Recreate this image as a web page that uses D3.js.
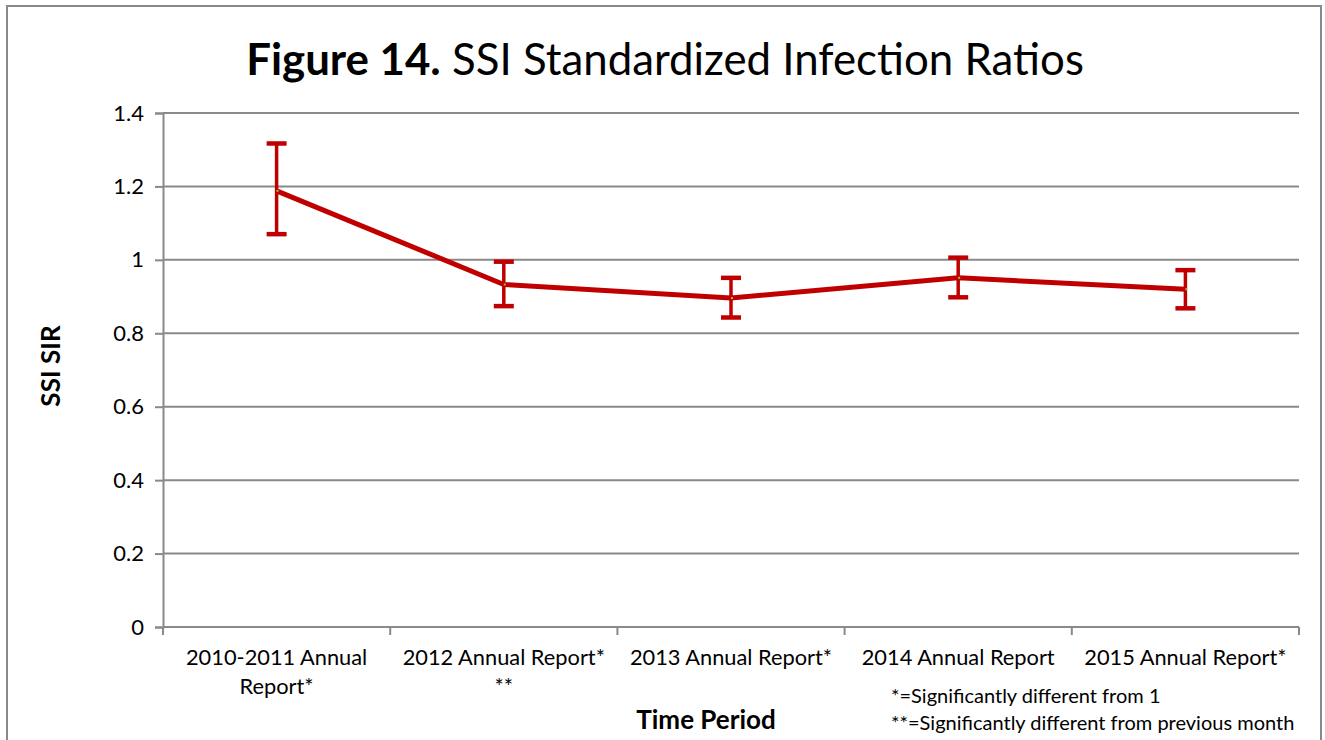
<!DOCTYPE html>
<html><head><meta charset="utf-8">
<script src="https://cdn.jsdelivr.net/npm/d3@7"></script>
<style>body{margin:0;background:#fff}svg{display:block}text{font-family:Lato,"Open Sans",sans-serif;fill:#000}</style>
</head><body>
<svg id="c" width="1325" height="740"></svg>
<script>
const categories = [["2010-2011 Annual","Report*"],["2012 Annual Report*","**"],["2013 Annual Report*"],["2014 Annual Report"],["2015 Annual Report*"]];
const sir = [1.188, 0.933, 0.896, 0.951, 0.920];
const upper = [1.317, 0.995, 0.951, 1.006, 0.972];
const lower = [1.070, 0.874, 0.843, 0.898, 0.868];
const yTicks = [0, 0.2, 0.4, 0.6, 0.8, 1, 1.2, 1.4];
const footnotes = ["*=Significantly different from 1", "**=Significantly different from previous month"];

const svg = d3.select("#c");
const L = 163, R = 1299, T = 113, B = 627;
const grey = "#898989", red = "#c00000";

svg.append("rect").attr("x",7).attr("y",6).attr("width",1314).attr("height",760)
  .attr("fill","none").attr("stroke",grey).attr("stroke-width",2);

const x = d3.scaleBand().domain(d3.range(categories.length)).range([L,R]);
const y = d3.scaleLinear().domain([0,1.4]).range([B,T]);

// gridlines
svg.append("g").selectAll("line").data(yTicks.filter(d=>d>0)).join("line")
  .attr("x1",L).attr("x2",R).attr("y1",d=>y(d)).attr("y2",d=>y(d))
  .attr("stroke",grey).attr("stroke-width",2);

// y axis
const ya = svg.append("g").attr("transform",`translate(${L},0)`)
  .call(d3.axisLeft(y).tickValues(yTicks).tickSize(8).tickPadding(11).tickFormat(d=>String(d)));
ya.select(".domain").attr("stroke",grey).attr("stroke-width",2);
ya.selectAll(".tick line").attr("stroke",grey).attr("stroke-width",2);
ya.selectAll(".tick text").style("font-size","22px").attr("fill","#000");

// x axis
svg.append("line").attr("x1",L).attr("x2",R).attr("y1",B).attr("y2",B).attr("stroke",grey).attr("stroke-width",2);
const bounds = d3.range(categories.length+1).map(i=> i<categories.length ? x(i) : x(categories.length-1)+x.bandwidth());
svg.append("g").selectAll("line").data(bounds).join("line")
  .attr("x1",d=>d).attr("x2",d=>d).attr("y1",B).attr("y2",B+8)
  .attr("stroke",grey).attr("stroke-width",2);
const xl = svg.append("g").selectAll("text").data(categories).join("text")
  .attr("text-anchor","middle").style("font-size","21.8px")
  .attr("transform",(d,i)=>`translate(${x(i)+x.bandwidth()/2},665)`);
xl.selectAll("tspan").data(d=>d).join("tspan").attr("x",0).attr("dy",(d,i)=>i?29:0).text(d=>d);

const cx = i => x(i)+x.bandwidth()/2;

// line
svg.append("path").datum(sir)
  .attr("d", d3.line().x((d,i)=>cx(i)).y(d=>y(d)))
  .attr("fill","none").attr("stroke",red).attr("stroke-width",5).attr("stroke-linejoin","round");

// error bars
const eb = svg.append("g").attr("stroke",red);
eb.selectAll(".v").data(sir).join("line")
  .attr("x1",(d,i)=>cx(i)).attr("x2",(d,i)=>cx(i))
  .attr("y1",(d,i)=>y(upper[i])).attr("y2",(d,i)=>y(lower[i])).attr("stroke-width",3.5);
eb.selectAll(".u").data(upper).join("line")
  .attr("x1",(d,i)=>cx(i)-10).attr("x2",(d,i)=>cx(i)+10)
  .attr("y1",d=>y(d)).attr("y2",d=>y(d)).attr("stroke-width",4.5);
eb.selectAll(".l").data(lower).join("line")
  .attr("x1",(d,i)=>cx(i)-10).attr("x2",(d,i)=>cx(i)+10)
  .attr("y1",d=>y(d)).attr("y2",d=>y(d)).attr("stroke-width",4.5);

// markers
svg.append("g").selectAll("rect").data(sir).join("rect")
  .attr("x",(d,i)=>cx(i)).attr("y",d=>y(d)-1).attr("width",2).attr("height",2).attr("fill","#9bbb59");

// title
const t = svg.append("text").attr("x",665).attr("y",75).attr("text-anchor","middle").style("font-size","43.8px");
t.append("tspan").style("font-weight","bold").text("Figure 14.");
t.append("tspan").text(" SSI Standardized Infection Ratios");

// axis titles
svg.append("text").attr("transform","translate(60,366) rotate(-90)").attr("text-anchor","middle")
  .style("font-size","26px").style("font-weight","bold").text("SSI SIR");
svg.append("text").attr("x",706).attr("y",729).attr("text-anchor","middle")
  .style("font-size","26px").style("font-weight","bold").text("Time Period");

svg.append("g").selectAll("text").data(footnotes).join("text")
  .attr("x",891).attr("y",(d,i)=>703+i*27).style("font-size","20px").text(d=>d);
</script>
</body></html>
